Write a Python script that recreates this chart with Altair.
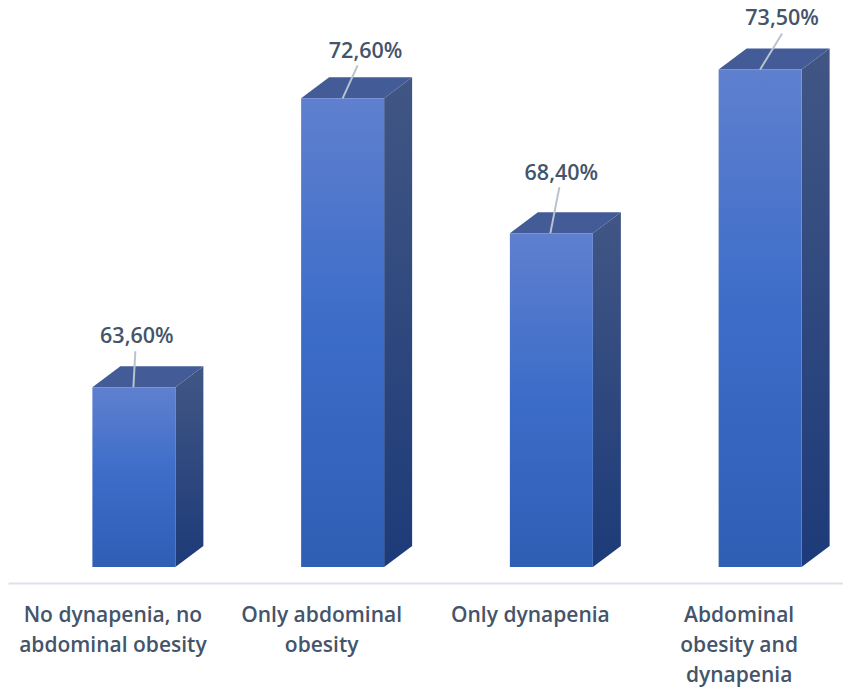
import altair as alt
import pandas as pd

categories = ["No dynapenia, no|abdominal obesity", "Only abdominal|obesity", "Only dynapenia", "Abdominal|obesity and|dynapenia"]
values = [63.6, 72.6, 68.4, 73.5]
labels = ["63,60%", "72,60%", "68,40%", "73,50%"]

W, H = 835, 575
PX_Y = 32.1
Y_BASE = 58.0
Y_MIN = Y_BASE - 16 / PX_Y
Y_MAX = Y_MIN + H / PX_Y
PX_X = W / 4
L, R = -20.0 / PX_X, 63.0 / PX_X
DX, DY = 28 / PX_X, 21 / PX_Y

# leader end / label centre offsets from the bar's top-front edge, in pixels
lead_x0 = [-0.5, 0, -1, 0]
lead_dx = [2, 15, 9, 22]
lead_dy = [36, 33, 46, 36]
text_dx = [3, 23, 10, 22]
text_dy = [50, 46, 59, 50]

front = pd.DataFrame({"i": range(4), "v": values, "y0": Y_BASE})
front["x0"] = front["i"] + L
front["x1"] = front["i"] + R

side_rows, top_rows = [], []
for i, v in enumerate(values):
    side_rows += [
        {"i": i, "x": i + R, "y0": Y_BASE, "y1": v},
        {"i": i, "x": i + R + DX, "y0": Y_BASE + DY, "y1": v + DY},
    ]
    top_rows += [
        {"i": i, "y": v, "x0": i + L, "x1": i + R},
        {"i": i, "y": v + DY, "x0": i + L + DX, "x1": i + R + DX},
    ]
side = pd.DataFrame(side_rows)
top = pd.DataFrame(top_rows)

lead = pd.DataFrame({
    "xa": [i + (L + R) / 2 + lead_x0[i] / PX_X for i in range(4)],
    "ya": values,
    "xb": [i + (L + R) / 2 + (lead_x0[i] + lead_dx[i]) / PX_X for i in range(4)],
    "yb": [values[i] + lead_dy[i] / PX_Y for i in range(4)],
})
txt = pd.DataFrame({
    "x": [i + (L + R) / 2 + text_dx[i] / PX_X for i in range(4)],
    "y": [values[i] + text_dy[i] / PX_Y for i in range(4)],
    "t": labels,
})

x_scale = alt.Scale(domain=[-0.5, 3.5], nice=False, zero=False)
y_scale = alt.Scale(domain=[Y_MIN, Y_MAX], nice=False, zero=False)

names = ",".join("'" + c + "'" for c in categories)
x_axis = alt.Axis(
    values=[0, 1, 2, 3], title=None, grid=False, ticks=False,
    domainColor="#dfe2ea", domainWidth=2,
    labelExpr=f"split([{names}][datum.value], '|')",
    labelFont="Open Sans", labelFontSize=21, labelFontWeight=600, labelColor="#44546a",
    labelPadding=21, labelLineHeight=30, labelAngle=0, labelOverlap=False,
    labelBound=False, labelFlush=False, labelLimit=400,
)


def X(f):
    return alt.X(f, type="quantitative", scale=x_scale, axis=x_axis)


def Y(f):
    return alt.Y(f, type="quantitative", scale=y_scale, axis=None)


def grad(c0, c1, c2=None):
    stops = [alt.GradientStop(color=c0, offset=0)]
    if c2:
        stops += [alt.GradientStop(color=c1, offset=0.5), alt.GradientStop(color=c2, offset=1)]
    else:
        stops += [alt.GradientStop(color=c1, offset=1)]
    return alt.LinearGradient(gradient="linear", x1=0, x2=0, y1=0, y2=1, stops=stops)


front_layer = alt.Chart(front).mark_bar(color=grad("#5f80cf", "#3b6cc8", "#2f5eb4")).encode(
    x=X("x0"), x2="x1:Q", y=Y("v"), y2="y0:Q",
)
side_layer = alt.Chart(side).mark_area(color=grad("#415684", "#1d3b79")).encode(
    x=X("x"), y=Y("y1"), y2="y0:Q", detail="i:N",
)
top_layer = alt.Chart(top).mark_area(orient="horizontal", color="#435b97").encode(
    y=Y("y"), x=X("x0"), x2="x1:Q", detail="i:N",
)
lead_layer = alt.Chart(lead).mark_rule(color="#b9c3d0", strokeWidth=2).encode(
    x=X("xa"), x2="xb:Q", y=Y("ya"), y2="yb:Q",
)
text_layer = alt.Chart(txt).mark_text(
    font="Open Sans", fontSize=21.5, fontWeight=600, color="#44546a", align="center", baseline="middle"
).encode(
    x=X("x"), y=Y("y"), text="t:N",
)

chart = (
    alt.layer(side_layer, top_layer, front_layer, lead_layer, text_layer)
    .properties(
        width=W, height=H, background="white",
        autosize=alt.AutoSizeParams(type="none"),
        padding={"left": 0, "top": 0, "right": 0, "bottom": 108},
    )
    .configure_view(stroke=None)
)
chart.save("out.html", embed_options={"renderer": "svg", "actions": False})
